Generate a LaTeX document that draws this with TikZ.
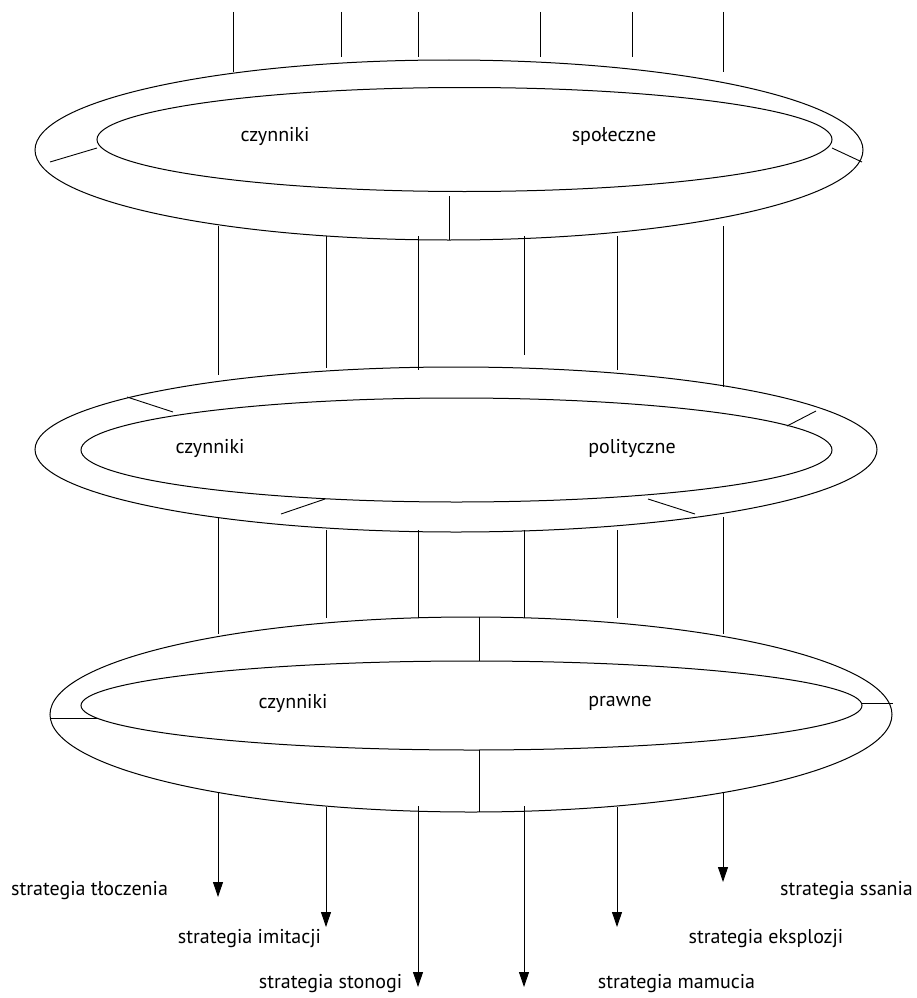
\documentclass[tikz,border=0pt]{standalone}
\usepackage{fontspec}
\setmainfont{PT Sans}
\usetikzlibrary{arrows.meta}

\begin{document}
\begin{tikzpicture}[x=1pt,y=-1pt,line width=0.9pt,
  ring/.style={line width=1pt},
  factor/.style={font=\fontsize{20}{22}\selectfont},
  strategy/.style={font=\fontsize{20}{22}\selectfont},
  outarrow/.style={-{Triangle[width=10pt,length=15pt]}}]
  \useasboundingbox (0,0) rectangle (917,998);
  % three rings of factors
  \draw[ring] (449,150) ellipse [x radius=414, y radius=90];
  \draw[ring] (464.5,139.5) ellipse [x radius=367.5, y radius=52];
  \draw[ring] (456,449.5) ellipse [x radius=421, y radius=82.5];
  \draw[ring] (456.5,450) ellipse [x radius=375.5, y radius=52];
  \draw[ring] (471,714.5) ellipse [x radius=421, y radius=97.5];
  \draw[ring] (471.5,705.5) ellipse [x radius=390.5, y radius=44.5];
  \node[factor] (soc1) at (275,136) {czynniki};
  \node[factor] (soc2) at (614,136) {społeczne};
  \node[factor] (pol1) at (210,448) {czynniki};
  \node[factor] (pol2) at (632,448) {polityczne};
  \node[factor] (law1) at (293,703) {czynniki};
  \node[factor] (law2) at (620,703) {prawne};
  % ticks across the rings
  \draw (50,162) -- (97,148);
  \draw (832,148) -- (862,162);
  \draw (449,196) -- (449,240);
  \draw (127,397) -- (173,412);
  \draw (816,411) -- (787,426);
  \draw (325,499) -- (281,514);
  \draw (648,499) -- (695,514);
  \draw (479,617) -- (479,661);
  \draw (479,750) -- (479,812);
  \draw (50,718) -- (97,718);
  \draw (862,703) -- (893,703);
  % lines coming in from the top
  \draw (233,12) -- (233,72);
  \draw (341,12) -- (341,57);
  \draw (418,12) -- (418,57);
  \draw (540,12) -- (540,57);
  \draw (632,12) -- (632,57);
  \draw (723,12) -- (723,72);
  % between ring 1 and ring 2
  \draw (218,226) -- (218,375);
  \draw (326,236) -- (326,368);
  \draw (418,236) -- (418,370);
  \draw (524,236) -- (524,355);
  \draw (617,236) -- (617,370);
  \draw (723,226) -- (723,387);
  % between ring 2 and ring 3
  \draw (218,517) -- (218,634);
  \draw (326,530) -- (326,618);
  \draw (418,530) -- (418,618);
  \draw (524,530) -- (524,618);
  \draw (617,530) -- (617,618);
  \draw (723,517) -- (723,634);
  % strategies
  \node[strategy] (tlo) at (89.5,891) {strategia tłoczenia};
  \node[strategy] (imi) at (249.5,939) {strategia imitacji};
  \node[strategy] (sto) at (330.5,984) {strategia stonogi};
  \node[strategy] (mam) at (676.5,984) {strategia mamucia};
  \node[strategy] (eks) at (766,939) {strategia eksplozji};
  \node[strategy] (ssa) at (846.5,891) {strategia ssania};
  \coordinate (a1) at (218,897);
  \coordinate (a2) at (326,927);
  \coordinate (a3) at (418,987);
  \coordinate (a4) at (524,987);
  \coordinate (a5) at (617,927);
  \coordinate (a6) at (723,882);
  \draw[outarrow] (218,792) -- (a1);
  \draw[outarrow] (326,807) -- (a2);
  \draw[outarrow] (418,806) -- (a3);
  \draw[outarrow] (524,806) -- (a4);
  \draw[outarrow] (617,807) -- (a5);
  \draw[outarrow] (723,792) -- (a6);
\end{tikzpicture}
\end{document}
